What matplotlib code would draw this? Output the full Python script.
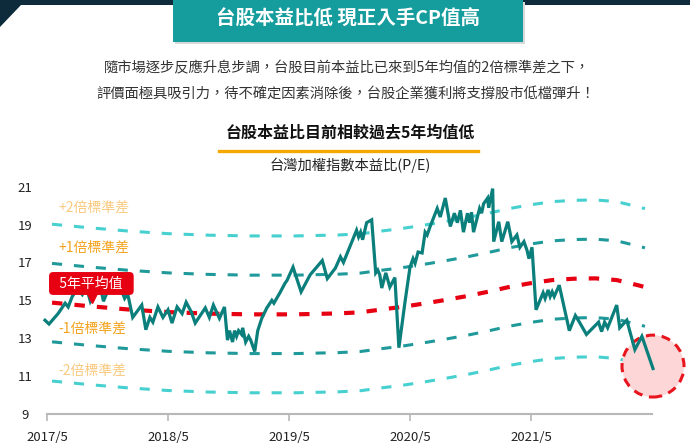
import matplotlib
matplotlib.use("Agg")
import matplotlib.pyplot as plt
from matplotlib.patches import Rectangle, Polygon, Ellipse

plt.rcParams["font.family"] = ["Noto Sans CJK TC", "DejaVu Sans"]

# months counted from 2017/5
pe_month = [-0.2, 0.2, 1.1, 1.8, 2.1, 2.5, 3.0, 3.5, 3.9, 4.3, 4.8, 5.3, 5.6, 6.1, 6.7,
            7.2, 7.7, 8.0, 8.5, 9.4, 9.8, 10.2, 10.5, 11.0, 11.5, 12.0, 12.4, 12.9, 13.4,
            13.8, 14.3, 14.7, 15.7, 16.1, 16.5, 17.1, 17.6, 17.9, 18.1, 18.4, 18.6, 18.8,
            19.0, 19.3, 19.4, 19.7, 20.0, 20.2, 20.6, 20.9, 21.3, 21.8, 22.3, 22.5, 23.1,
            23.6, 23.8, 24.4, 25.2, 26.1, 27.3, 27.8, 28.6, 29.1, 29.4, 30.7, 30.9, 31.1,
            31.3, 31.7, 32.2, 32.6, 32.8, 33.0, 33.2, 33.6, 34.0, 34.5, 34.9, 35.5, 36.0,
            36.3, 36.5, 36.8, 37.2, 37.5, 37.7, 38.0, 38.7, 39.0, 39.5, 40.0, 40.4, 40.7,
            41.0, 41.3, 41.7, 41.9, 42.1, 42.3, 42.9, 43.1, 43.3, 43.7, 43.8, 44.2, 44.3,
            44.8, 45.1, 45.7, 46.1, 46.6, 46.9, 47.3, 47.6, 47.8, 48.1, 48.5, 49.2, 49.4,
            49.7, 49.9, 50.1, 50.3, 50.8, 51.8, 52.4, 52.8, 53.5, 54.7, 55.0, 55.3, 55.6,
            55.9, 56.5, 56.8, 57.5, 58.3, 59.0, 60.1]
pe_value = [13.95, 13.75, 14.3, 14.85, 14.65, 15.2, 15.6, 15.3, 15.7, 14.95, 15.5, 15.7,
            14.95, 15.6, 15.4, 15.8, 15.1, 15.35, 14.1, 14.75, 13.45, 14.1, 13.85, 14.65,
            14.1, 14.5, 13.8, 14.65, 14.3, 14.9, 14.4, 13.8, 14.6, 14.1, 14.75, 14.05,
            14.65, 12.9, 13.4, 12.8, 13.4, 13.1, 13.4, 13.2, 13.55, 12.8, 13.1, 12.9, 12.3,
            13.4, 14.05, 14.6, 15.0, 14.85, 15.4, 15.9, 16.05, 16.75, 15.45, 16.35, 17.1,
            16.15, 16.7, 17.3, 17.0, 18.7, 18.35, 18.6, 18.2, 19.1, 19.25, 16.45, 16.6,
            16.35, 15.65, 16.45, 15.7, 16.2, 12.5, 14.9, 16.75, 17.2, 16.95, 17.55, 17.5,
            18.6, 18.45, 18.9, 19.85, 19.4, 20.4, 18.9, 19.6, 19.1, 19.75, 18.6, 19.6, 19.1,
            19.65, 18.6, 19.85, 19.6, 20.1, 20.4, 19.9, 20.9, 18.1, 19.15, 18.1, 19.15,
            18.1, 18.45, 17.8, 18.1, 17.65, 17.2, 17.8, 14.5, 15.4, 15.1, 15.55, 15.2,
            15.45, 15.2, 15.8, 13.4, 14.2, 13.85, 13.2, 13.85, 13.35, 13.85, 13.55, 13.95,
            14.75, 13.55, 13.95, 12.4, 13.1, 11.4]

# 5-year mean and standard deviation
mean_month = [0.5, 4.0, 8.0, 12.0, 16.0, 20.1, 24.6, 28.9, 31.1, 33.2, 35.3, 37.5, 39.5,
              41.7, 43.8, 45.7, 47.9, 50.1, 52.2, 54.4, 56.5, 58.6, 59.3]
mean_value = [14.88, 14.7, 14.52, 14.38, 14.3, 14.26, 14.26, 14.31, 14.37, 14.52, 14.66,
              14.84, 15.02, 15.23, 15.46, 15.69, 15.9, 16.07, 16.14, 16.16, 16.07, 15.8,
              15.7]
std_dev = 2.07

band_k = [2, 1, -1, -2]
band_labels = ["+2倍標準差", "+1倍標準差", "-1倍標準差", "-2倍標準差"]
band_label_y = [19.87, 17.76, 13.5, 11.3]

xtick_pos = [0, 12, 24, 36, 48]
xtick_labels = ["2017/5", "2018/5", "2019/5", "2020/5", "2021/5"]
ytick_pos = [9, 11, 13, 15, 17, 19, 21]

W, H = 690, 447
fig = plt.figure(figsize=(W / 100, H / 100), dpi=100)
fig.patch.set_facecolor("white")


def fx(x):
    return x / W


def fy(y):
    return 1 - y / H


# header decoration
dark = "#0e2b3b"
fig.add_artist(Polygon([(fx(0), fy(0)), (fx(175), fy(0)), (fx(175), fy(5)), (fx(21), fy(5)),
                        (fx(0), fy(27))], closed=True, transform=fig.transFigure,
                       facecolor=dark, edgecolor="none"))
fig.add_artist(Rectangle((fx(520), fy(5)), fx(170), 5 / H, transform=fig.transFigure,
                         facecolor=dark, edgecolor="none"))
fig.add_artist(Rectangle((fx(175), fy(44)), fx(350), 42 / H, transform=fig.transFigure,
                         facecolor="#d8d8d8", edgecolor="none"))
fig.add_artist(Rectangle((fx(173), fy(42)), fx(350), 42 / H, transform=fig.transFigure,
                         facecolor="#159c9c", edgecolor="none"))
fig.text(fx(348), fy(19), "台股本益比低 現正入手CP值高", color="white", fontsize=14,
         fontweight="bold", ha="center", va="center")

fig.text(fx(347), fy(68), "隨市場逐步反應升息步調，台股目前本益比已來到5年均值的2倍標準差之下，",
         color="#333333", fontsize=10.3, ha="center", va="center")
fig.text(fx(346), fy(94), "評價面極具吸引力，待不確定因素消除後，台股企業獲利將支撐股市低檔彈升！",
         color="#333333", fontsize=10.3, ha="center", va="center")

fig.text(fx(350), fy(132), "台股本益比目前相較過去5年均值低", color="#111111", fontsize=11.5,
         fontweight="bold", ha="center", va="center")
fig.add_artist(plt.Line2D([fx(219), fx(478)], [fy(151), fy(151)], transform=fig.transFigure,
                          color="#f5a800", lw=2.4))
fig.text(fx(350), fy(165), "台灣加權指數本益比(P/E)", color="#222222", fontsize=10.3,
         ha="center", va="center")

ax = fig.add_axes([47 / W, (H - 414) / H, 605 / W, 233 / H])
ax.set_xlim(0, 60)
ax.set_ylim(9, 21.3)

band_colors = {2: "#46d0cf", 1: "#1f9999", -1: "#1f9999", -2: "#46d0cf"}
for k in band_k:
    ax.plot(mean_month, [m + k * std_dev for m in mean_value], color=band_colors[k],
            lw=2.2, dashes=(3.3, 3.9), zorder=2)
ax.plot(mean_month, mean_value, color="#e60012", lw=3, dashes=(2.5, 2.9), zorder=2)

label_colors = ["#f9c97f", "#f4a21c", "#f4a21c", "#f9c97f"]
for lab, yv, col in zip(band_labels, band_label_y, label_colors):
    ax.text(1.1, yv, lab, color=col, fontsize=10, ha="left", va="center", zorder=3)

circle = Ellipse((60.1, 11.53), 6.15, 3.27, facecolor="#fdd7d7", edgecolor="#e8141e",
                 lw=2.2, linestyle=(0, (3, 2.2)), clip_on=False, zorder=3)
ax.add_patch(circle)

ax.plot(pe_month, pe_value, color="#0b7f7b", lw=2.3, zorder=4, clip_on=False,
        solid_joinstyle="miter")

# 5年平均值 tag
ax.plot([4.5], [15.12], marker="v", markersize=7, color="#e60012", zorder=5, clip_on=False)
ax.text(4.4, 15.89, "  5年平均值  ", color="white", fontsize=10, ha="center", va="center",
        zorder=6, bbox=dict(boxstyle="round,pad=0.32,rounding_size=0.3", facecolor="#e60012",
                            edgecolor="none"))

for s in ["left", "right", "top"]:
    ax.spines[s].set_visible(False)
ax.spines["bottom"].set_color("#b8b8b8")
ax.spines["bottom"].set_linewidth(1.5)

ax.set_xticks(xtick_pos)
ax.set_xticklabels(xtick_labels)
ax.tick_params(axis="x", colors="#b8b8b8", length=5, width=1.2, labelcolor="#222222",
               labelsize=9.5, pad=7)
ax.set_yticks(ytick_pos)
ax.set_yticklabels([str(v) for v in ytick_pos])
ax.tick_params(axis="y", length=0, labelcolor="#222222", labelsize=9.5, pad=16)
for t in ax.get_yticklabels():
    t.set_horizontalalignment("center")

fig.savefig("out.png", dpi=100)
